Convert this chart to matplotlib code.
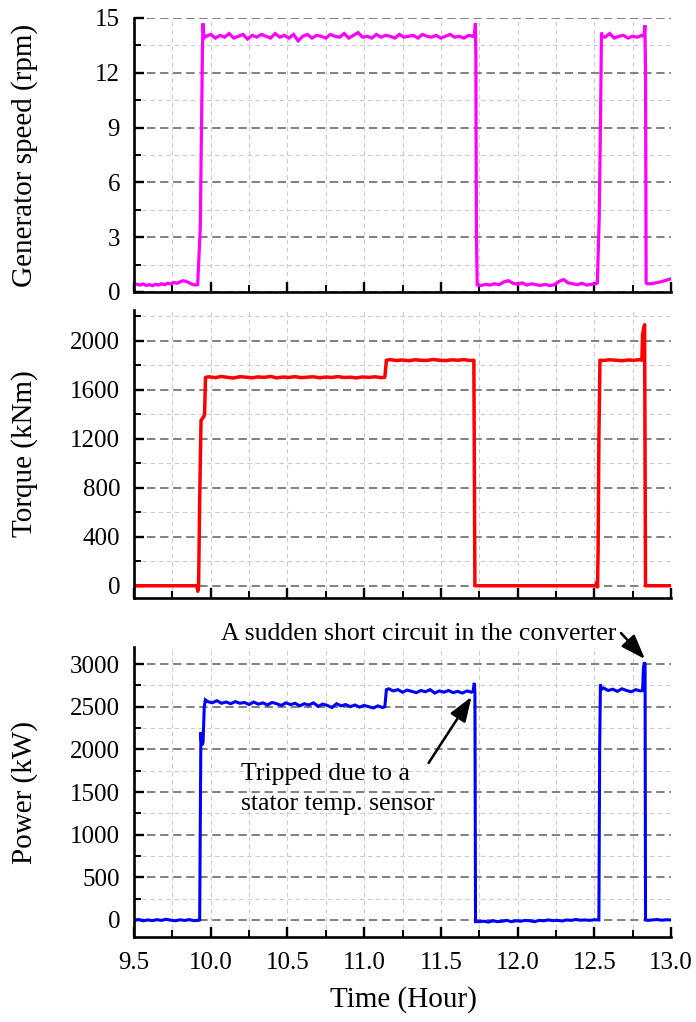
import matplotlib
matplotlib.use("Agg")
import matplotlib.pyplot as plt
from matplotlib.ticker import MultipleLocator

plt.rcParams['font.family'] = ['Liberation Serif', 'DejaVu Serif']
plt.rcParams['lines.scale_dashes'] = False

# ---------------- data ----------------
# Generator speed (rpm)
t_speed = [9.50, 9.52, 9.54, 9.56, 9.58, 9.60, 9.62, 9.64, 9.66, 9.68, 9.70, 9.72, 9.74, 9.76, 9.78, 9.80,
           9.82, 9.84, 9.86, 9.88, 9.90,
           9.915, 9.925, 9.932, 9.94, 9.946, 9.95, 9.955,
           9.97, 10.00, 10.03, 10.06, 10.09, 10.12, 10.15, 10.18, 10.21, 10.24, 10.27, 10.30, 10.33, 10.36,
           10.39, 10.42, 10.45, 10.48, 10.51, 10.54, 10.57, 10.60, 10.63, 10.66, 10.69, 10.72, 10.75, 10.78,
           10.81, 10.84, 10.87, 10.90, 10.93, 10.96, 10.99, 11.02, 11.05, 11.08, 11.11, 11.14, 11.17, 11.20,
           11.23, 11.26, 11.29, 11.32, 11.35, 11.38, 11.41, 11.44, 11.47, 11.50, 11.53, 11.56, 11.59, 11.62,
           11.65, 11.68, 11.71,
           11.72, 11.725, 11.728, 11.732, 11.737,
           11.76, 11.79, 11.82, 11.85, 11.88, 11.91, 11.94, 11.97, 12.00, 12.03, 12.06, 12.09, 12.12, 12.15,
           12.18, 12.21, 12.24, 12.27, 12.30, 12.33, 12.36, 12.39, 12.42, 12.45, 12.48, 12.51,
           12.52, 12.527, 12.532, 12.54, 12.547, 12.552,
           12.57, 12.60, 12.63, 12.66, 12.69, 12.72, 12.75, 12.78, 12.81,
           12.825, 12.83, 12.834, 12.838, 12.845,
           12.87, 12.90, 12.93, 12.96, 12.99, 13.0]
speed = [0.45, 0.42, 0.38, 0.44, 0.36, 0.40, 0.35, 0.42, 0.38, 0.45, 0.40, 0.48, 0.44, 0.52, 0.48, 0.55,
         0.62, 0.58, 0.50, 0.42, 0.38,
         0.40, 2.2, 3.5, 9.0, 13.2, 14.7, 13.9,
         14.0, 14.1, 13.9, 14.05, 13.95, 14.15, 13.9, 14.0, 14.1, 13.85, 14.05, 13.95, 14.1, 14.0,
         13.9, 14.15, 13.95, 14.05, 13.9, 14.1, 13.75, 14.0, 14.1, 13.9, 14.05, 14.0, 13.9, 14.1,
         14.0, 13.95, 14.15, 13.9, 14.05, 14.2, 13.95, 14.0, 13.9, 14.1, 13.95, 14.05, 14.0, 13.9,
         14.1, 13.95, 14.0, 14.05, 13.9, 14.1, 14.0, 13.95, 14.05, 13.9, 14.0, 14.1, 13.95, 14.0,
         13.9, 14.05, 14.0,
         14.1, 14.7, 13.0, 3.0, 0.4,
         0.35, 0.42, 0.38, 0.45, 0.40, 0.55, 0.62, 0.48, 0.42, 0.50, 0.38, 0.45, 0.40, 0.36,
         0.42, 0.35, 0.40, 0.58, 0.68, 0.50, 0.45, 0.40, 0.48, 0.38, 0.42, 0.45,
         0.50, 2.5, 4.0, 9.0, 14.2, 14.0,
         13.95, 14.15, 13.9, 14.0, 14.05, 13.9, 14.0, 13.95, 14.05,
         14.0, 14.6, 12.0, 0.5, 0.45,
         0.45, 0.50, 0.55, 0.62, 0.70, 0.72]

# Torque (kNm)
t_torque = [9.50, 9.91, 9.916, 9.921, 9.928, 9.937, 9.955, 9.96, 9.966,
            9.99, 10.03, 10.07, 10.11, 10.15, 10.19, 10.23, 10.27, 10.31, 10.35, 10.39, 10.43, 10.47, 10.51,
            10.55, 10.59, 10.63, 10.67, 10.71, 10.75, 10.79, 10.83, 10.87, 10.91, 10.95, 10.99, 11.03, 11.07,
            11.11,
            11.135, 11.145,
            11.17, 11.21, 11.25, 11.29, 11.33, 11.37, 11.41, 11.45, 11.49, 11.53, 11.57, 11.61, 11.65, 11.69,
            11.715, 11.722, 12.51, 12.517, 12.521, 12.525, 12.53, 12.537,
            12.56, 12.60, 12.64, 12.68, 12.72, 12.76, 12.80,
            12.81, 12.815, 12.822, 12.828, 12.831, 12.834, 13.0]
torque = [0, 0, -45, 0, 700, 1350, 1380, 1400, 1700,
          1705, 1698, 1708, 1700, 1695, 1706, 1702, 1697, 1704, 1700, 1708, 1696, 1703, 1700,
          1706, 1698, 1702, 1705, 1697, 1703, 1700, 1707, 1699, 1702, 1696, 1704, 1700, 1705,
          1698,
          1702, 1840,
          1845, 1838, 1842, 1836, 1844, 1840, 1838, 1846, 1840, 1837, 1843, 1840, 1845, 1838,
          1840, 0, 0, 30, -10, 300, 1200, 1840,
          1838, 1844, 1840, 1836, 1842, 1840, 1845,
          1840, 2050, 2100, 2130, 1000, 0, 0]

# Power (kW)
t_power = [9.50, 9.53, 9.56, 9.59, 9.62, 9.65, 9.68, 9.71, 9.74, 9.77, 9.80, 9.83, 9.86, 9.89, 9.92,
           9.928, 9.933, 9.936, 9.939, 9.944, 9.95, 9.958, 9.965,
           9.98, 10.01, 10.04, 10.07, 10.10, 10.13, 10.16, 10.19, 10.22, 10.25, 10.28, 10.31, 10.34, 10.37,
           10.40, 10.43, 10.46, 10.49, 10.52, 10.55, 10.58, 10.61, 10.64, 10.67, 10.70, 10.73, 10.76, 10.79,
           10.82, 10.85, 10.88, 10.91, 10.94, 10.97, 11.00, 11.03, 11.06, 11.09, 11.12,
           11.135, 11.145,
           11.16, 11.19, 11.22, 11.25, 11.28, 11.31, 11.34, 11.37, 11.40, 11.43, 11.46, 11.49, 11.52, 11.55,
           11.58, 11.61, 11.64, 11.67, 11.70,
           11.71, 11.718, 11.722, 11.726,
           11.75, 11.78, 11.81, 11.84, 11.87, 11.90, 11.93, 11.96, 11.99, 12.02, 12.05, 12.08, 12.11, 12.14,
           12.17, 12.20, 12.23, 12.26, 12.29, 12.32, 12.35, 12.38, 12.41, 12.44, 12.47, 12.50, 12.53,
           12.535, 12.54, 12.545,
           12.56, 12.59, 12.62, 12.65, 12.68, 12.71, 12.74, 12.77, 12.80,
           12.815, 12.82, 12.826, 12.831, 12.834,
           12.85, 12.88, 12.91, 12.94, 12.97, 13.0]
power = [-5, 5, -10, 0, -8, 3, -5, 8, -3, -10, 2, -6, 4, -8, -5,
         0, 1500, 2200, 2100, 2050, 2080, 2500, 2580,
         2560, 2545, 2570, 2540, 2555, 2535, 2560, 2540, 2550, 2525, 2555, 2530, 2545, 2520,
         2550, 2535, 2515, 2545, 2525, 2540, 2510, 2535, 2520, 2545, 2505, 2530, 2515, 2490,
         2535, 2510, 2525, 2500, 2520, 2495, 2515, 2500, 2485, 2510, 2490,
         2500, 2700,
         2710, 2685, 2700, 2670, 2695, 2680, 2665, 2690, 2675, 2700, 2660, 2685, 2670, 2690,
         2665, 2680, 2660, 2685, 2670,
         2680, 2780, 2650, -20,
         -20, -15, -25, -10, -20, -15, -5, -20, -10, -15, -5, -10, -20, -5,
         -10, 0, -8, -5, -12, 0, -5, 5, -3, 0, -5, 2, 0,
         2000, 2760, 2700,
         2720, 2690, 2705, 2680, 2710, 2690, 2675, 2700, 2685,
         2690, 2950, 3020, 3000, 0,
         -5, 0, 5, -3, 2, 0]

x_ticks = [9.5, 10.0, 10.5, 11.0, 11.5, 12.0, 12.5, 13.0]
x_ticklabels = ["9.5", "10.0", "10.5", "11.0", "11.5", "12.0", "12.5", "13.0"]

# ---------------- figure ----------------
W, H = 696, 1022
fig = plt.figure(figsize=(W / 100, H / 100), dpi=100)

L, R = 134, 671
def box(top, bottom):
    return [L / W, 1 - bottom / H, (R - L) / W, (bottom - top) / H]

ax1 = fig.add_axes(box(18, 292))
ax2 = fig.add_axes(box(310, 598))
ax3 = fig.add_axes(box(647, 937))

TICK_FS = 18
LABEL_FS = 21
MAJ_GRID = dict(color='#808080', linestyle=(0, (6, 3.4)), linewidth=1.4)
MIN_GRID = dict(color='#cccccc', linestyle=(0, (3.2, 2.6)), linewidth=0.8)

def style(ax, ymaj, ymin, show_xlabels):
    ax.set_xlim(9.5, 13.0)
    ax.xaxis.set_major_locator(MultipleLocator(0.5))
    ax.xaxis.set_minor_locator(MultipleLocator(0.25))
    ax.yaxis.set_major_locator(MultipleLocator(ymaj))
    ax.yaxis.set_minor_locator(MultipleLocator(ymin))
    for s in ('top', 'right'):
        ax.spines[s].set_visible(False)
    for s in ('left', 'bottom'):
        ax.spines[s].set_linewidth(1.9)
    ax.tick_params(which='major', direction='in', length=7.5, width=1.7,
                   labelsize=TICK_FS, pad=10)
    ax.tick_params(which='minor', direction='in', length=5, width=1.4)
    ax.tick_params(axis='x', which='both', top=False)
    ax.tick_params(axis='y', which='both', right=False)
    ax.xaxis.grid(True, which='both', **MIN_GRID)
    ax.yaxis.grid(True, which='major', **MAJ_GRID)
    ax.yaxis.grid(True, which='minor', **MIN_GRID)
    ax.set_axisbelow(True)
    if show_xlabels:
        ax.set_xticks(x_ticks)
        ax.set_xticklabels(x_ticklabels)
    else:
        ax.tick_params(axis='x', labelbottom=False)

# Panel 1: generator speed
ax1.plot(t_speed, speed, color='#ff00ff', lw=2.3, solid_joinstyle='miter')
ax1.set_ylim(0, 15)
style(ax1, 3, 1.5, False)
for t in ax1.yaxis.get_major_ticks():
    if abs(t.get_loc() - 15) < 1e-6:
        t.gridline.set_visible(False)

# Panel 2: torque
ax2.plot(t_torque, torque, color='#ff0000', lw=2.5)
ax2.set_ylim(-100, 2250)
style(ax2, 400, 200, False)

# Panel 3: power
ax3.plot(t_power, power, color='#0000ff', lw=2.2, solid_joinstyle='miter')
ax3.set_ylim(-200, 3200)
style(ax3, 500, 250, True)
ax3.tick_params(axis='x', pad=11)

# y labels
fig.text(25 / W, 1 - 155 / H, "Generator speed (rpm)", rotation=90, ha='center', va='center', fontsize=LABEL_FS)
fig.text(25 / W, 1 - 454 / H, "Torque (kNm)", rotation=90, ha='center', va='center', fontsize=LABEL_FS)
fig.text(25 / W, 1 - 792 / H, "Power (kW)", rotation=90, ha='center', va='center', fontsize=LABEL_FS)
fig.text(403 / W, 1 - 1000 / H, "Time (Hour)", ha='center', va='center', fontsize=LABEL_FS)

# annotations
ANN_FS = 18.5
ax3.text(10.068, 3282, "A sudden short circuit in the converter", fontsize=ANN_FS,
         ha='left', va='baseline', clip_on=False)
ax3.text(10.199, 1641, "Tripped due to a", fontsize=ANN_FS, ha='left', va='baseline')
ax3.text(10.199, 1289, "stator temp. sensor", fontsize=ANN_FS, ha='left', va='baseline')
arrow = dict(arrowstyle='-|>,head_length=0.75,head_width=0.27', color='black', lw=1.8,
             shrinkA=0, shrinkB=0, mutation_scale=20)
ax3.annotate("", xy=(11.70, 2615), xytext=(11.42, 1840), arrowprops=arrow)
ax3.annotate("", xy=(12.83, 3059), xytext=(12.674, 3364), arrowprops=arrow, annotation_clip=False)

fig.savefig("out.png", dpi=100)
